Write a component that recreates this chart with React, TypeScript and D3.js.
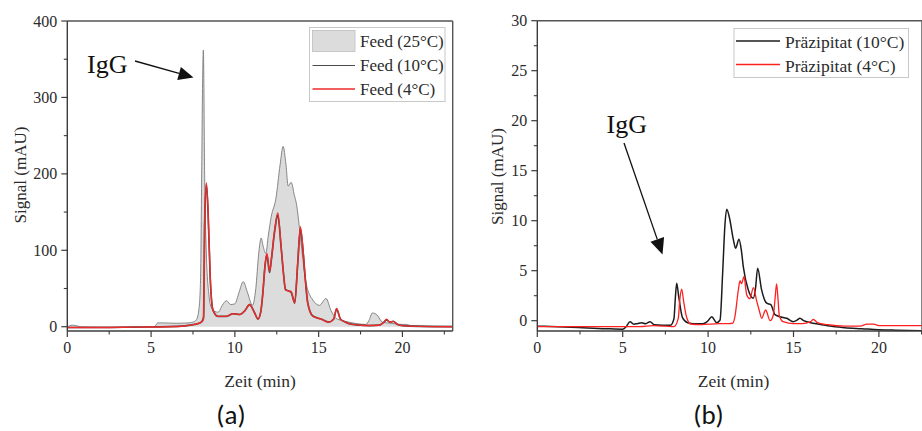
import React from "react";
import * as d3 from "d3";

// ---- Panel (a): feed chromatograms ----
const feed25T = [0, 0.3, 0.5, 0.8, 2, 4, 5.2, 5.4, 5.7, 6.5, 7.2, 7.5, 7.7, 7.85, 7.95, 8.02, 8.08, 8.12, 8.2, 8.3, 8.45, 8.6, 8.8, 9.0, 9.25, 9.5, 9.75, 10.0, 10.25, 10.5, 10.75, 11.05, 11.25, 11.42, 11.57, 11.7, 11.85, 12.0, 12.17, 12.45, 12.7, 12.88, 13.05, 13.18, 13.36, 13.55, 13.68, 13.85, 14.0, 14.25, 14.65, 15.05, 15.44, 15.74, 16.04, 16.4, 16.8, 17.3, 17.8, 18.0, 18.2, 18.5, 18.8, 19.1, 19.5, 20.0, 20.25, 20.5, 21.5, 23];
const feed25V = [0, 2, 1.5, 0, -0.5, -0.5, 0, 5, 5, 4.5, 5, 6, 9, 22, 60, 200, 330, 362, 190, 95, 42, 25, 20, 19, 28, 34, 29, 30, 45, 59, 45, 28, 50, 95, 116, 104, 96, 120, 144, 168, 212, 236, 212, 184, 189, 172, 160, 130, 100, 57, 35, 28, 37, 21, 11, 8, 6, 4, 3, 8, 18, 15, 6, 5, 4, 3, 3, 1.5, 1, 0.5];

const feed10T = [0, 2, 4, 6, 7, 7.6, 8.0, 8.13, 8.2, 8.3, 8.4, 8.53, 8.69, 8.99, 9.49, 9.89, 10.29, 10.6, 10.88, 11.18, 11.38, 11.55, 11.67, 11.8, 11.91, 12.07, 12.17, 12.37, 12.56, 12.76, 12.9, 13.02, 13.18, 13.36, 13.5, 13.57, 13.75, 13.91, 14.05, 14.19, 14.35, 14.65, 15.15, 15.6, 15.9, 16.07, 16.3, 16.6, 17.0, 17.5, 18.0, 18.6, 18.9, 19.05, 19.25, 19.45, 19.7, 20.0, 21, 23];
const feed10V = [-1, -1, -0.5, 0, 1, 3, 6, 12, 138, 186, 150, 63, 22, 13.5, 13.5, 17, 16, 21, 29, 18, 10, 20, 44, 80, 94, 71, 86, 124, 146, 104, 70, 49, 47, 45, 35, 31, 82, 128, 104, 66, 31, 14, 10, 6, 10, 23, 10, 6, 3, 2, 1.5, 2, 6, 9, 6, 7, 3, 1.5, 0.5, 0];

const feed4T = [0, 2, 4, 6, 7, 7.6, 8.0, 8.13, 8.2, 8.3, 8.4, 8.53, 8.69, 8.99, 9.49, 9.89, 10.29, 10.6, 10.88, 11.18, 11.38, 11.55, 11.67, 11.8, 11.91, 12.07, 12.17, 12.37, 12.56, 12.76, 12.9, 13.02, 13.18, 13.36, 13.5, 13.57, 13.75, 13.91, 14.05, 14.19, 14.35, 14.65, 15.15, 15.6, 15.9, 16.07, 16.3, 16.6, 17.0, 17.5, 18.0, 18.6, 18.9, 19.05, 19.25, 19.45, 19.7, 20.0, 21, 23];
const feed4V = [-1, -1, -0.5, 0, 1, 3, 6, 10, 140, 188, 152, 65, 22, 13.5, 13.5, 17, 16, 21, 29, 18, 10, 20, 44, 80, 96, 73, 87, 126, 149, 105, 70, 48, 47, 46, 35, 31, 83, 131, 105, 66, 31, 14, 10, 6, 10, 24, 10, 6, 3, 2, 1.5, 2, 6, 10, 6, 7, 3, 1.5, 0.5, 0];

// ---- Panel (b): precipitate chromatograms ----
const prec10T = [0, 2, 4, 5.0, 5.2, 5.43, 5.65, 5.85, 6.1, 6.35, 6.6, 6.85, 7.3, 7.8, 8.0, 8.08, 8.16, 8.28, 8.5, 8.8, 9.2, 9.7, 10.0, 10.21, 10.5, 10.7, 10.85, 10.99, 11.09, 11.25, 11.48, 11.61, 11.81, 11.95, 12.06, 12.35, 12.65, 12.78, 12.9, 13.13, 13.43, 13.67, 13.92, 14.2, 14.6, 14.99, 15.2, 15.38, 15.6, 16.0, 16.5, 17.0, 17.5, 18, 19, 20, 21, 22.5];
const prec10V = [-0.55, -0.65, -0.8, -0.85, -0.6, -0.1, -0.35, -0.3, -0.2, -0.3, -0.1, -0.4, -0.45, -0.45, 0.2, 2.2, 3.75, 2.4, 0.3, -0.2, -0.3, -0.3, 0, 0.4, -0.2, 0.07, 4.7, 9.7, 11.15, 10.3, 8.1, 7.25, 8.15, 7.0, 5.4, 3.1, 2.25, 3.3, 5.25, 3.1, 1.75, 1.6, 0.6, 0.4, 0.24, -0.1, 0.05, 0.24, 0, -0.2, -0.35, -0.5, -0.6, -0.7, -0.8, -0.9, -0.95, -1.0];

const prec4T = [0, 2, 4, 6, 6.8, 7.5, 8.0, 8.25, 8.35, 8.45, 8.58, 8.75, 9.0, 9.5, 10.0, 10.7, 11.2, 11.45, 11.57, 11.77, 11.87, 11.96, 12.1, 12.26, 12.45, 12.65, 12.84, 13.0, 13.14, 13.37, 13.63, 13.82, 13.92, 14.01, 14.1, 14.17, 14.4, 15.0, 15.5, 16.0, 16.16, 16.4, 17.0, 18.0, 18.9, 19.3, 19.7, 20.0, 21, 22.5];
const prec4V = [-0.6, -0.6, -0.6, -0.6, -0.5, -0.55, -0.6, 0.2, 2.2, 3.15, 1.8, 0.3, -0.35, -0.4, -0.35, -0.3, -0.3, -0.25, 0.4, 3.07, 4.0, 3.7, 4.4, 2.6, 2.2, 3.3, 2.0, 1.0, 0.24, 1.07, 0.0, 0.57, 2.2, 3.67, 2.0, 0.5, -0.1, -0.3, -0.3, -0.1, 0.14, -0.2, -0.4, -0.55, -0.55, -0.35, -0.35, -0.5, -0.5, -0.5];

// ---- Axis ticks ----
const timeTicks = [0, 5, 10, 15, 20];
const timeMinorTicks = [2.5, 7.5, 12.5, 17.5, 22.5];
const feedTicks = [0, 100, 200, 300, 400];
const feedMinorTicks = [50, 150, 250, 350];
const precTicks = [0, 5, 10, 15, 20, 25, 30];
const precMinorTicks = [2.5, 7.5, 12.5, 17.5, 22.5, 27.5];

const feedLegend = ["Feed (25°C)", "Feed (10°C)", "Feed (4°C)"];
const precLegend = ["Präzipitat (10°C)", "Präzipitat (4°C)"];

const SERIF = "'Palatino Linotype', 'Book Antiqua', Palatino, 'Liberation Serif', serif";
const SANS = "Calibri, Carlito, 'Liberation Sans', Arial, sans-serif";
const TEXT = "#2b2b2b";
const AXIS = "#3c3c3c";

type Pt = [number, number];
const zip = (t: number[], v: number[]): Pt[] => t.map((x, i) => [x, v[i]]);

type Scale = d3.ScaleLinear<number, number>;

function Axes({ x, y, yMajor, yMinor, right }: { x: Scale; y: Scale; yMajor: number[]; yMinor: number[]; right: number }) {
  const [x0] = x.range();
  const [yb, yt] = y.range();
  return (
    <g>
      {/* frame: top and right */}
      <line x1={x0} x2={right} y1={yt} y2={yt} stroke="#555" strokeWidth={1.4} />
      <line x1={right} x2={right} y1={yt} y2={yb} stroke="#555" strokeWidth={1.4} />
      {/* bottom axis */}
      <line x1={x0} x2={right} y1={yb} y2={yb} stroke={AXIS} strokeWidth={1.4} />
      {timeTicks.map((t) => (
        <g key={"xt" + t}>
          <line x1={x(t)} x2={x(t)} y1={yb} y2={yb + 6} stroke={AXIS} strokeWidth={1.2} />
          <text x={x(t)} y={yb + 22} textAnchor="middle" fontFamily={SERIF} fontSize={16} fill={TEXT}>
            {t}
          </text>
        </g>
      ))}
      {timeMinorTicks.map((t) =>
        x(t) <= right ? <line key={"xm" + t} x1={x(t)} x2={x(t)} y1={yb} y2={yb + 3.5} stroke={AXIS} strokeWidth={1.1} /> : null
      )}
      {/* left axis */}
      <line x1={x0} x2={x0} y1={yb} y2={yt} stroke={AXIS} strokeWidth={1.4} />
      {yMajor.map((v) => (
        <g key={"yt" + v}>
          <line x1={x0 - 6} x2={x0} y1={y(v)} y2={y(v)} stroke={AXIS} strokeWidth={1.2} />
          <text x={x0 - 10} y={y(v)} dy="0.35em" textAnchor="end" fontFamily={SERIF} fontSize={16} fill={TEXT}>
            {v}
          </text>
        </g>
      ))}
      {yMinor.map((v) => (
        <line key={"ym" + v} x1={x0 - 3.5} x2={x0} y1={y(v)} y2={y(v)} stroke={AXIS} strokeWidth={1.1} />
      ))}
    </g>
  );
}

function Arrow({ x1, y1, x2, y2, head }: { x1: number; y1: number; x2: number; y2: number; head: number }) {
  const a = Math.atan2(y2 - y1, x2 - x1);
  const w = head * 0.45;
  const bx = x2 - head * Math.cos(a);
  const by = y2 - head * Math.sin(a);
  const p1 = [bx + w * Math.sin(a), by - w * Math.cos(a)];
  const p2 = [bx - w * Math.sin(a), by + w * Math.cos(a)];
  return (
    <g>
      <line x1={x1} y1={y1} x2={bx} y2={by} stroke="#111" strokeWidth={1.3} />
      <polygon points={`${x2},${y2} ${p1[0]},${p1[1]} ${p2[0]},${p2[1]}`} fill="#111" />
    </g>
  );
}

export default function App() {
  // panel (a)
  const xA = d3.scaleLinear().domain([0, 23]).range([67.3, 452.7]);
  const yA = d3.scaleLinear().domain([-5.6, 400]).range([331, 21]);
  // panel (b)
  const xB = d3.scaleLinear().domain([0, 23]).range([537.3, 537.3 + 23 * 17.08]);
  const yB = d3.scaleLinear().domain([-1.03, 30]).range([331, 20.7]);

  const curve = d3.curveMonotoneX;
  const lineA = d3.line<Pt>().x((d) => xA(d[0])).y((d) => yA(d[1])).curve(curve);
  const areaA = d3.area<Pt>().x((d) => xA(d[0])).y0(yA(0)).y1((d) => yA(d[1])).curve(curve);
  const lineB = d3.line<Pt>().x((d) => xB(d[0])).y((d) => yB(d[1])).curve(curve);

  const f25 = zip(feed25T, feed25V);
  const f10 = zip(feed10T, feed10V);
  const f4 = zip(feed4T, feed4V);
  const p10 = zip(prec10T, prec10V);
  const p4 = zip(prec4T, prec4V);

  const rightB = 922;

  return (
    <svg
      width={922}
      height={431}
      viewBox="0 0 922 431"
      style={{ position: "absolute", left: 0, top: 0, background: "#fff" }}
    >
      <defs>
        <clipPath id="clipA">
          <rect x={67.3} y={20.7} width={452.7 - 67.3} height={331 - 20.7} />
        </clipPath>
        <clipPath id="clipB">
          <rect x={537.3} y={20.7} width={rightB - 537.3} height={331 - 20.7} />
        </clipPath>
      </defs>
      <rect x={0} y={0} width={922} height={431} fill="#fff" />

      {/* ---------- panel (a) ---------- */}
      <g clipPath="url(#clipA)">
        <path d={areaA(f25) ?? ""} fill="#dcdcdc" stroke="none" />
        <path d={lineA(f25) ?? ""} fill="none" stroke="#7a7a7a" strokeWidth={0.9} />
        <path d={lineA(f10) ?? ""} fill="none" stroke="#4a4a4a" strokeWidth={1.7} />
        <path d={lineA(f4) ?? ""} fill="none" stroke="#ee2b2b" strokeWidth={1.4} />
      </g>
      <Axes x={xA} y={yA} yMajor={feedTicks} yMinor={feedMinorTicks} right={452.7} />

      {/* legend (a) */}
      <g>
        <rect x={309.5} y={27.5} width={135.5} height={74} fill="#fff" stroke="#c8c8c8" strokeWidth={1} />
        <rect x={312.5} y={30.5} width={42.5} height={21} fill="#dcdcdc" stroke="#bdbdbd" strokeWidth={0.8} />
        <line x1={312.5} x2={355} y1={65.5} y2={65.5} stroke="#4a4a4a" strokeWidth={1.2} />
        <line x1={312.5} x2={355} y1={89} y2={89} stroke="#ee2b2b" strokeWidth={1.3} />
        {feedLegend.map((s, i) => (
          <text key={s} x={360} y={[41.5, 65.5, 89][i]} dy="0.35em" fontFamily={SERIF} fontSize={17} fill={TEXT}>
            {s}
          </text>
        ))}
      </g>

      <text x={87} y={63.5} dy="0.35em" fontFamily={SERIF} fontSize={26} fill="#111">
        IgG
      </text>
      <Arrow x1={135} y1={61} x2={193.5} y2={77.5} head={15} />

      <text x={260} y={387} textAnchor="middle" fontFamily={SERIF} fontSize={17.5} fill={TEXT}>
        Zeit (min)
      </text>
      <text
        transform="translate(20,175) rotate(-90)"
        textAnchor="middle"
        dy="0.35em"
        fontFamily={SERIF}
        fontSize={17}
        fill={TEXT}
      >
        Signal (mAU)
      </text>
      <text x={231} y={415} dy="0.35em" textAnchor="middle" fontFamily={SANS} fontSize={27} fill="#111">
        (a)
      </text>

      {/* ---------- panel (b) ---------- */}
      <g clipPath="url(#clipB)">
        <path d={lineB(p10) ?? ""} fill="none" stroke="#1c1c1c" strokeWidth={1.5} />
        <path d={lineB(p4) ?? ""} fill="none" stroke="#ff2020" strokeWidth={1.3} />
      </g>
      <Axes x={xB} y={yB} yMajor={precTicks} yMinor={precMinorTicks} right={rightB} />

      {/* legend (b) */}
      <g>
        <rect x={734} y={28.5} width={174.5} height={49} fill="#fff" stroke="#c8c8c8" strokeWidth={1} />
        <line x1={736} x2={780} y1={41} y2={41} stroke="#1c1c1c" strokeWidth={1.4} />
        <line x1={736} x2={780} y1={64.5} y2={64.5} stroke="#ff2020" strokeWidth={1.3} />
        {precLegend.map((s, i) => (
          <text key={s} x={785} y={[42.3, 66][i]} dy="0.35em" fontFamily={SERIF} fontSize={17.5} fill={TEXT}>
            {s}
          </text>
        ))}
      </g>

      <text x={606.5} y={123.5} dy="0.35em" fontFamily={SERIF} fontSize={26} fill="#111">
        IgG
      </text>
      <Arrow x1={624} y1={143} x2={662.5} y2={254.5} head={16} />

      <text x={733.5} y={387} textAnchor="middle" fontFamily={SERIF} fontSize={17.5} fill={TEXT}>
        Zeit (min)
      </text>
      <text
        transform="translate(497.5,176.5) rotate(-90)"
        textAnchor="middle"
        dy="0.35em"
        fontFamily={SERIF}
        fontSize={17}
        fill={TEXT}
      >
        Signal (mAU)
      </text>
      <text x={708.5} y={415} dy="0.35em" textAnchor="middle" fontFamily={SANS} fontSize={27} fill="#111">
        (b)
      </text>
    </svg>
  );
}
